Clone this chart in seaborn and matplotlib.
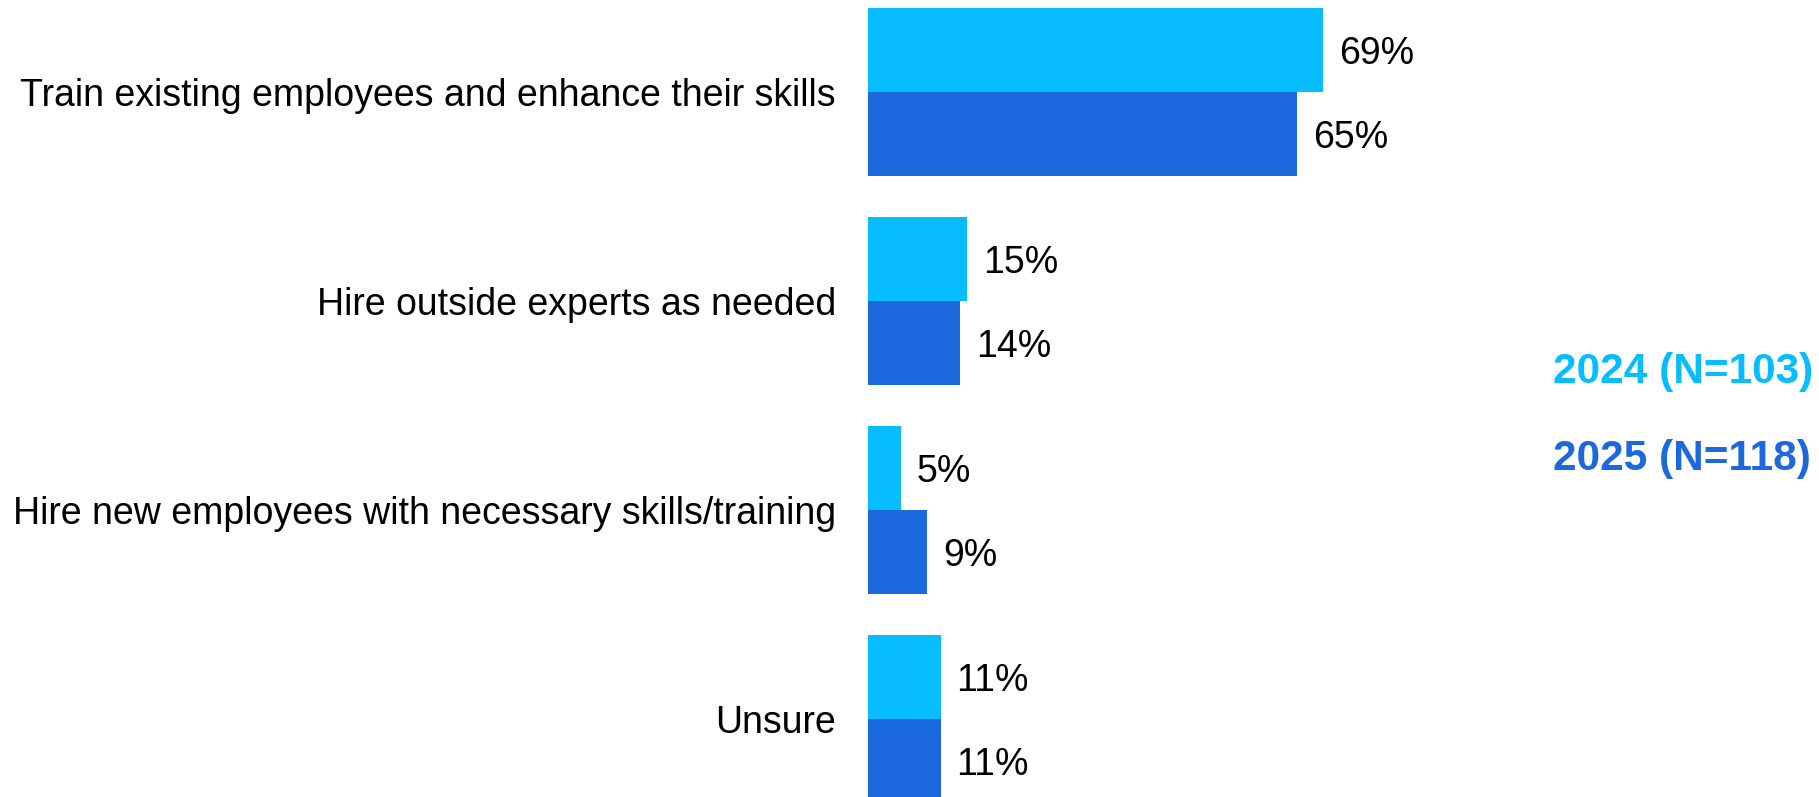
import matplotlib
matplotlib.use("Agg")
import matplotlib.pyplot as plt
import pandas as pd
import seaborn as sns

categories = [
    "Train existing employees and enhance their skills",
    "Hire outside experts as needed",
    "Hire new employees with necessary skills/training",
    "Unsure",
]
years = ["2024 (N=103)", "2025 (N=118)"]
values_2024 = [69, 15, 5, 11]
values_2025 = [65, 14, 9, 11]
colors = ["#07BDFF", "#1C68DF"]

df = pd.DataFrame({
    "category": categories * 2,
    "year": [years[0]] * len(categories) + [years[1]] * len(categories),
    "value": values_2024 + values_2025,
})

sns.set_theme(style="white")
plt.rcParams["font.family"] = ["Liberation Sans", "DejaVu Sans"]

W, H, DPI = 1819, 797, 100
X0 = 868          # left edge of the bars, in pixels
PX_PER_PCT = 6.6  # horizontal scale
fig = plt.figure(figsize=(W / DPI, H / DPI), dpi=DPI)
ax = fig.add_axes([X0 / W, 0, (W - X0) / W, 1])

sns.barplot(
    data=df, y="category", x="value", hue="year", order=categories,
    hue_order=years, palette=colors, orient="h", width=0.805,
    saturation=1, ax=ax, legend=False, linewidth=0,
)

for container in ax.containers:
    texts = ax.bar_label(container, fmt="%d%%", padding=11.5, fontsize=27,
                         color="black")
    for t in texts:
        t.set_va("center_baseline")

ax.set_xlim(0, (W - X0) / PX_PER_PCT)
ax.set_ylim(3.376, -0.443)
ax.set_xlabel("")
ax.set_ylabel("")
ax.set_xticks([])
ax.tick_params(axis="y", length=0, pad=23, labelsize=27, labelcolor="black")
for s in ax.spines.values():
    s.set_visible(False)

fig.text(1553 / W, 1 - 372 / H, years[0], color=colors[0], fontsize=30.5,
         fontweight="bold", va="center", ha="left")
fig.text(1553 / W, 1 - 459 / H, years[1], color=colors[1], fontsize=30.5,
         fontweight="bold", va="center", ha="left")

fig.savefig("out.png", dpi=DPI, facecolor="white")
